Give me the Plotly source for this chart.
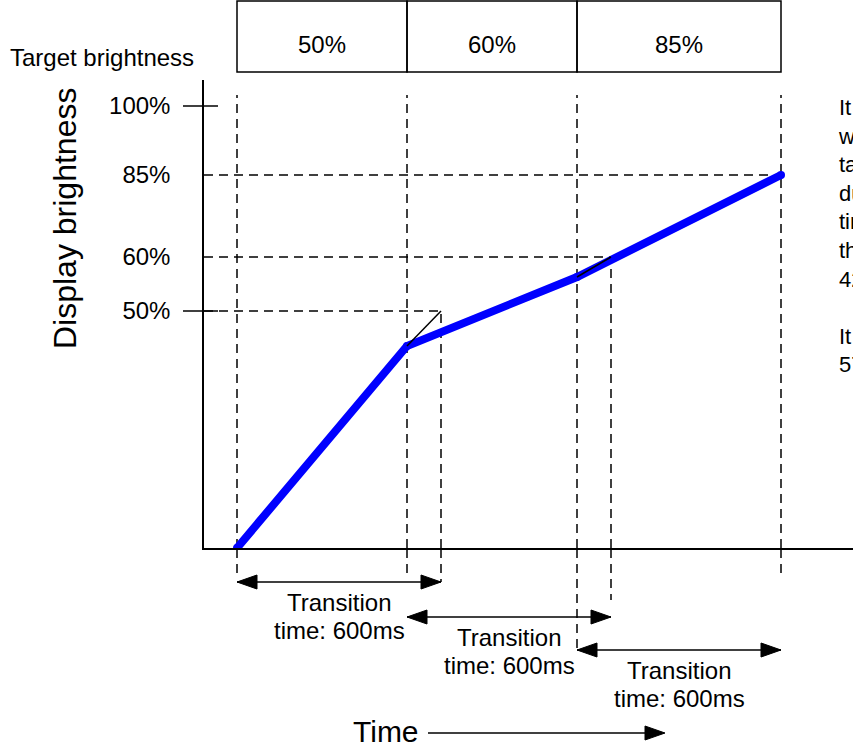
import plotly.graph_objects as go

# figure size and the pixel mapping of the (schematic) diagram
W, H = 853, 749
PX_PER_MS = 0.34          # horizontal scale
T0_PX = 237               # x pixel of t = 0
AXIS_X_PX = 204           # y axis line
AXIS_Y_PX = 548           # x axis line (display level 0)
TOP_PX = 80               # top of the y axis

FONT = "Liberation Sans, Arial, sans-serif"
DASH = "9px,6px"
FS = 24

# data --------------------------------------------------------------
change_ms = [0, 500, 1000]              # target brightness changes
end_ms = 1600
transition_ms = 600
target_text = ["50%", "60%", "85%"]

# the diagram's brightness axis is schematic, levels are diagram units
tick_levels = [237, 291, 373, 442]
tick_text = ["50%", "60%", "85%", "100%"]
target_levels = tick_levels[:3]

display_ms = [0, 500, 1000, 1600]
display_level = [0, 202, 271, 373]

side_text = ("It would have taken<br>when the<br>target changed,<br>during the<br>"
             "time, so<br>the value is<br>42%.<br><br>It reaches<br>57%.")


def pap(py):
    return (H - py) / H


x_range = [(AXIS_X_PX - T0_PX) / PX_PER_MS, (W - T0_PX) / PX_PER_MS]

fig = go.Figure()

# blue display brightness
fig.add_trace(go.Scatter(x=display_ms, y=display_level, mode="lines+markers",
                         line=dict(color="#0000FF", width=8),
                         marker=dict(color="#0000FF", size=8),
                         hoverinfo="skip", showlegend=False))

# thin lines towards the interrupted target
for i in range(2):
    fig.add_trace(go.Scatter(x=[display_ms[i + 1], change_ms[i] + transition_ms],
                             y=[display_level[i + 1], target_levels[i]],
                             mode="lines", line=dict(color="black", width=1.5),
                             hoverinfo="skip", showlegend=False))

shapes = []
line_k = dict(color="black", width=1.5)
dash_k = dict(color="black", width=1.5, dash=DASH)

# horizontal dashed guides for the targets
for i, lvl in enumerate(target_levels):
    shapes.append(dict(type="line", xref="x", yref="y", x0=x_range[0], x1=change_ms[i] + transition_ms,
                       y0=lvl, y1=lvl, line=dash_k, layer="below"))

# vertical dashed guides
top_level = AXIS_Y_PX - 95
v_bottom = {0: 575, 500: 575, 600: 582, 1000: 650, 1100: 600, 1600: 575}
for t in change_ms + [end_ms]:
    shapes.append(dict(type="line", xref="x", yref="y", x0=t, x1=t, y0=0, y1=top_level,
                       line=dash_k, layer="below"))
for i in range(2):
    t = change_ms[i] + transition_ms
    shapes.append(dict(type="line", xref="x", yref="y", x0=t, x1=t, y0=0, y1=target_levels[i],
                       line=dash_k, layer="below"))
for t, yb in v_bottom.items():
    shapes.append(dict(type="line", xref="x", yref="paper", x0=t, x1=t,
                       y0=pap(AXIS_Y_PX + 1), y1=pap(yb), line=dash_k, layer="below"))

# crossing ticks at 100% and 50%
for lvl in [tick_levels[3], tick_levels[0]]:
    shapes.append(dict(type="line", xref="paper", yref="y", x0=183 / W, x1=218 / W,
                       y0=lvl, y1=lvl, line=line_k, layer="below"))

# target brightness boxes
bounds = change_ms + [end_ms]
for i in range(3):
    shapes.append(dict(type="rect", xref="x", yref="paper", x0=bounds[i], x1=bounds[i + 1],
                       y0=pap(72), y1=pap(1), line=line_k, fillcolor="rgba(0,0,0,0)"))


def label(x, py, text, xref="paper", size=FS, **kw):
    d = dict(x=x, y=pap(py), xref=xref, yref="paper", text=text, showarrow=False,
             xanchor="center", yanchor="middle", font=dict(size=size))
    d.update(kw)
    return d


annotations = []
for i, txt in enumerate(target_text):
    annotations.append(label((bounds[i] + bounds[i + 1]) / 2, 44, txt, xref="x"))


# double headed arrows for transition times
def arrow_head(tip, direction, y, xref="x"):
    hl = 20 / PX_PER_MS if xref == "x" else 20 / W
    hw = 7 / H
    back = tip - direction * hl
    return dict(type="path", xref=xref, yref="paper",
                path=f"M {tip},{y} L {back},{y + hw} L {back},{y - hw} Z",
                fillcolor="black", line=dict(color="black", width=1))


arrow_py = [582, 617, 650]
for i, t in enumerate(change_ms):
    y = pap(arrow_py[i])
    t1 = t + transition_ms
    shapes.append(dict(type="line", xref="x", yref="paper", x0=t, x1=t1, y0=y, y1=y, line=line_k))
    shapes.append(arrow_head(t, -1, y))
    shapes.append(arrow_head(t1, 1, y))
    annotations.append(label((t + t1) / 2, arrow_py[i] + 20, "Transition", xref="x"))
    annotations.append(label((t + t1) / 2, arrow_py[i] + 48, f"time: {transition_ms}ms", xref="x"))

# time arrow
shapes.append(dict(type="line", xref="paper", yref="paper", x0=428 / W, x1=650 / W,
                   y0=pap(733), y1=pap(733), line=line_k))
shapes.append(arrow_head(665 / W, 1, pap(733), xref="paper"))

annotations += [
    label(386 / W, 731, "Time", size=30),
    label(8 / W, 57, "Target brightness", xanchor="left"),
    label(65 / W, 219, "Display brightness", size=32, textangle=-90),
    dict(x=836 / W, y=pap(93), xref="paper", yref="paper", text=side_text,
         showarrow=False, xanchor="left", yanchor="top", align="left", font=dict(size=22)),
]

fig.update_layout(
    width=W, height=H,
    margin=dict(l=0, r=0, t=0, b=0),
    paper_bgcolor="white", plot_bgcolor="white",
    font=dict(family=FONT, color="black", size=FS),
    shapes=shapes, annotations=annotations,
    xaxis=dict(domain=[AXIS_X_PX / W, 1], range=x_range, showline=True, linecolor="black",
               linewidth=1.5, showgrid=False, zeroline=False, showticklabels=False, ticks=""),
    yaxis=dict(domain=[pap(AXIS_Y_PX), pap(TOP_PX)], range=[0, AXIS_Y_PX - TOP_PX],
               showline=True, linecolor="black", linewidth=1.5, showgrid=False, zeroline=False,
               tickvals=tick_levels, ticktext=tick_text, ticks="", ticklabelstandoff=27,
               tickfont=dict(size=FS)),
)

# the page body has a default margin; drop it so the figure sits at the window corner
fig.write_html("out.html", config={"displayModeBar": False},
               post_script="document.body.style.margin='0';")
